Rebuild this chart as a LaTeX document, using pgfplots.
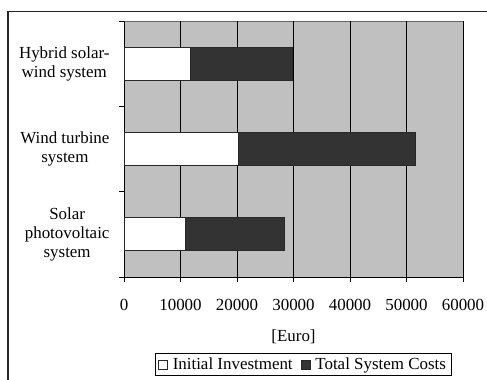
\documentclass[border=0pt]{standalone}
\usepackage{fontspec}
\setmainfont{Liberation Serif}
\usepackage{pgfplots}
\pgfplotsset{compat=1.18}

\definecolor{plotbg}{RGB}{192,192,192}
\definecolor{darkbar}{RGB}{51,51,51}
\definecolor{edge}{RGB}{40,40,40}

\newcommand{\chartfont}{\fontsize{17}{19}\selectfont}

% Initial investment and total system costs (Euro) per system
\pgfplotstableread{
pos invest total
1 10800 28350
2 20200 51500
3 11800 29800
}\costs

\begin{document}
\begin{tikzpicture}[x=1bp,y=1bp]
\useasboundingbox (0,0) rectangle (487,379);
% outer chart frame
\draw[line width=1.5bp, black!85] (8,-20) -- (8,367.5) -- (520,367.5);
\begin{axis}[
  at={(124bp,102bp)}, anchor=south west,
  scale only axis, width=339bp, height=256bp,
  /pgf/number format/assume math mode=true,
  xbar, bar width=33bp, bar shift=0pt,
  xmin=0, xmax=60000, ymin=0.5, ymax=3.5,
  axis x line*=bottom, axis y line*=left,
  axis line style={black, line width=0.8bp},
  axis background/.style={fill=plotbg, draw=black!60, line width=0.8bp},
  xtick={0,10000,...,60000},
  scaled x ticks=false,
  tick label style={font=\chartfont},
  label style={font=\chartfont},
  xticklabel style={/pgf/number format/fixed, /pgf/number format/1000 sep={}, yshift=-14bp},
  xmajorgrids, grid style={black, line width=0.7bp},
  ytick={0.5,1.5,2.5,3.5},
  y tick label as interval,
  yticklabels={{Solar\\photovoltaic\\system},{Wind turbine\\system},{Hybrid solar-\\wind system}},
  yticklabel style={align=center, xshift=-6bp},
  tick align=outside, major tick length=5bp,
  tick style={black, line width=0.8bp},
  xlabel={[Euro]},
  xlabel style={yshift=-12bp},
  reverse legend,
  legend columns=2,
  legend style={at={(axis description cs:0.528,-0.342)}, anchor=center,
    draw=black, line width=0.8bp, fill=white,
    nodes={font=\chartfont},
    inner xsep=3bp, inner ysep=2.5bp,
    /tikz/every odd column/.append style={column sep=3bp},
    /tikz/every even column/.append style={column sep=6bp}},
  legend image code/.code={
    \draw[#1, line width=0.7bp] (0bp,-4.5bp) rectangle (9bp,4.5bp);},
]
\addplot[fill=darkbar, draw=edge, line width=0.8bp] table[x=total, y=pos] {\costs};
\addlegendentry{Total System Costs}
\addplot[fill=white, draw=edge, line width=0.8bp] table[x=invest, y=pos] {\costs};
\addlegendentry{Initial Investment}
\end{axis}
\end{tikzpicture}
\end{document}
